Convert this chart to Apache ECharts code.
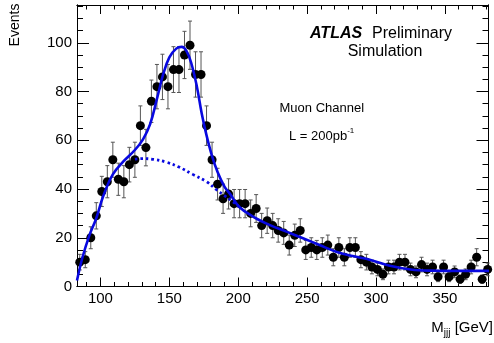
<!DOCTYPE html>
<html>
<head>
<meta charset="utf-8">
<script src="https://cdn.jsdelivr.net/npm/echarts@6/dist/echarts.min.js"></script>
<style>
  html, body { margin: 0; padding: 0; background: #fff; }
  #chart { width: 494px; height: 343px; }
</style>
</head>
<body>
<div id="chart"></div>
<script>
// bin centres (GeV), 4 GeV wide bins
var massBins = [85, 89, 93, 97, 101, 105, 109, 113, 117, 121,
  125, 129, 133, 137, 141, 145, 149, 153, 157, 161,
  165, 169, 173, 177, 181, 185, 189, 193, 197, 201,
  205, 209, 213, 217, 221, 225, 229, 233, 237, 241,
  245, 249, 253, 257, 261, 265, 269, 273, 277, 281,
  285, 289, 293, 297, 301, 305, 309, 313, 317, 321,
  325, 329, 333, 337, 341, 345, 349, 353, 357, 361,
  365, 369, 373, 377, 381];
// events per bin
var events = [10, 11, 20, 29, 39, 43, 52, 44, 43, 50,
  52, 66, 57, 76, 82, 86, 82, 89, 89, 95,
  99, 87, 87, 66, 52, 42, 36, 38, 34, 34,
  34, 30, 32, 25, 27, 25, 23, 22, 17, 21,
  23, 15, 16, 15, 16, 17, 12, 16, 12, 16,
  16, 11, 10, 8, 7, 5, 8, 8, 10, 10,
  7, 6, 9, 7, 8, 4, 8, 4, 6, 3,
  5, 8, 12, 3, 7];
// error bar half heights
var errors = [3.2, 3.3, 4.5, 5.4, 6.2, 6.6, 7.2, 6.6, 6.6, 7.1,
  7.2, 8.1, 7.5, 8.7, 9.1, 9.3, 9.1, 9.4, 9.4, 9.7,
  9.9, 9.3, 9.3, 8.1, 7.2, 6.5, 6.0, 6.2, 5.8, 5.8,
  5.8, 5.5, 5.7, 5.0, 5.2, 5.0, 4.8, 4.7, 4.1, 4.6,
  4.8, 3.9, 4.0, 3.9, 4.0, 4.1, 3.5, 4.0, 3.5, 4.0,
  4.0, 3.3, 3.2, 2.8, 2.6, 2.2, 2.8, 2.8, 3.2, 3.2,
  2.6, 2.4, 3.0, 2.6, 2.8, 2.0, 2.8, 2.0, 2.4, 1.7,
  2.2, 2.8, 3.5, 1.7, 2.6];

// total fit (signal + background)
var fitMass = [83, 87, 92, 97, 102, 109, 117, 125, 131, 136, 141, 145.5, 150, 155, 159,
  162.5, 166, 170, 173.5, 177, 181, 185, 190, 194, 201, 211, 223, 235, 247, 259, 271,
  283, 296, 310, 325, 340, 356, 382];
var fitTotal = [2.5, 12, 21, 28, 37, 46, 51.5, 56, 60.5, 66.5, 77, 87, 94, 97.6, 98.3,
  96.6, 91.5, 82, 71, 62, 53.5, 47, 41, 38, 32.5, 28.6, 25.2, 22.5, 19.8, 17, 14.3,
  12.5, 10.9, 8.5, 7, 6.5, 6.4, 6.4];

// background only (dotted)
var bkgMass = [125, 130, 138, 148, 157, 167, 177, 184, 190, 195, 200];
var bkgValues = [52.3, 52.5, 52.2, 51, 49, 46, 43, 39.8, 37.3, 35.3, 33];

var xMajorTicks = [100, 150, 200, 250, 300, 350];
var xMinorTicks = [90, 110, 120, 130, 140, 160, 170, 180, 190, 210, 220, 230, 240,
  260, 270, 280, 290, 310, 320, 330, 340, 360, 370, 380];
var yMajorTicks = [0, 20, 40, 60, 80, 100];
var yMinorTicks = [5, 10, 15, 25, 30, 35, 45, 50, 55, 65, 70, 75, 85, 90, 95, 105, 110, 115];

var FONT = 'Liberation Sans, Arial, Helvetica, sans-serif';
var BLUE = '#0808e0';
var xMin = 83, xMax = 381.6, yMin = 0, yMax = 115.5;

var points = [], bars = [];
massBins.forEach(function (m, i) {
  points.push([m, events[i]]);
  bars.push([m, events[i] - errors[i], events[i] + errors[i]]);
});
var fitData = fitMass.map(function (m, i) { return [m, fitTotal[i]]; });
var bkgData = bkgMass.map(function (m, i) { return [m, bkgValues[i]]; });

function xAxisDef(pos, ticks, len, labels) {
  return {
    type: 'value', position: pos, min: xMin, max: xMax,
    axisLine: { show: true, onZero: false, lineStyle: { color: '#000', width: 1 } },
    axisTick: { show: true, inside: true, length: len, customValues: ticks,
      lineStyle: { color: '#000', width: 1 } },
    axisLabel: labels ? { show: true, customValues: ticks, fontSize: 15, color: '#000',
      fontFamily: FONT, margin: 5 } : { show: false },
    splitLine: { show: false }
  };
}
function yAxisDef(pos, ticks, len, labels) {
  return {
    type: 'value', position: pos, min: yMin, max: yMax,
    axisLine: { show: true, onZero: false, lineStyle: { color: '#000', width: 1 } },
    axisTick: { show: true, inside: true, length: len, customValues: ticks,
      lineStyle: { color: '#000', width: 1 } },
    axisLabel: labels ? { show: true, customValues: ticks, fontSize: 15, color: '#000',
      fontFamily: FONT, margin: 5 } : { show: false },
    splitLine: { show: false }
  };
}

var chart = echarts.init(document.getElementById('chart'), null, { renderer: 'canvas' });
chart.setOption({
  animation: false,
  backgroundColor: '#fff',
  grid: { left: 77, right: 5.5, top: 5, bottom: 56.5, containLabel: false },
  xAxis: [
    xAxisDef('bottom', xMajorTicks, 9, true),
    xAxisDef('bottom', xMinorTicks, 4.5, false),
    xAxisDef('top', xMajorTicks, 9, false),
    xAxisDef('top', xMinorTicks, 4.5, false)
  ],
  yAxis: [
    yAxisDef('left', yMajorTicks, 12, true),
    yAxisDef('left', yMinorTicks, 6, false),
    yAxisDef('right', yMajorTicks, 12, false),
    yAxisDef('right', yMinorTicks, 6, false)
  ],
  series: [
    {
      // error bars
      type: 'custom',
      xAxisIndex: 0, yAxisIndex: 0,
      silent: true,
      z: 2,
      encode: { x: 0, y: [1, 2] },
      data: bars,
      renderItem: function (params, api) {
        var x = api.value(0);
        var lo = api.coord([x, Math.max(api.value(1), 0)]);
        var hi = api.coord([x, api.value(2)]);
        var st = { stroke: '#555', lineWidth: 1 };
        var w = 2;
        return {
          type: 'group',
          children: [
            { type: 'line', shape: { x1: hi[0], y1: hi[1], x2: lo[0], y2: lo[1] }, style: st },
            { type: 'line', shape: { x1: hi[0] - w, y1: hi[1], x2: hi[0] + w, y2: hi[1] }, style: st },
            { type: 'line', shape: { x1: lo[0] - w, y1: lo[1], x2: lo[0] + w, y2: lo[1] }, style: st }
          ]
        };
      }
    },
    {
      type: 'scatter',
      xAxisIndex: 0, yAxisIndex: 0,
      silent: true,
      z: 3,
      symbol: 'circle',
      symbolSize: 9,
      itemStyle: { color: '#000', opacity: 1 },
      data: points
    },
    {
      type: 'line',
      xAxisIndex: 0, yAxisIndex: 0,
      silent: true,
      z: 4,
      smooth: 0.4,
      symbol: 'none',
      lineStyle: { color: BLUE, width: 2.8, type: [2.5, 3] },
      data: bkgData
    },
    {
      type: 'line',
      xAxisIndex: 0, yAxisIndex: 0,
      silent: true,
      z: 5,
      smooth: 0.4,
      symbol: 'none',
      lineStyle: { color: BLUE, width: 2.6 },
      data: fitData
    }
  ],
  graphic: [
    { type: 'text', x: 15, y: 25, rotation: Math.PI / 2, silent: true,
      style: { text: 'Events', font: '14px ' + FONT, fill: '#000', align: 'center', verticalAlign: 'middle' } },
    { type: 'text', x: 493, y: 329, silent: true,
      style: {
        text: '{m|M}{s|jjj}{m| [GeV]}', align: 'right', verticalAlign: 'middle', fill: '#000',
        rich: {
          m: { fontSize: 15, fontFamily: FONT, lineHeight: 18, verticalAlign: 'top', fill: '#000' },
          s: { fontSize: 10, fontFamily: FONT, lineHeight: 10, verticalAlign: 'bottom', fill: '#000' }
        }
      } },
    { type: 'text', x: 310, y: 34, silent: true,
      style: { text: 'ATLAS', font: 'italic bold 16px ' + FONT, fill: '#000', align: 'left', verticalAlign: 'middle' } },
    { type: 'text', x: 372, y: 34, silent: true,
      style: { text: 'Preliminary', font: '16px ' + FONT, fill: '#000', align: 'left', verticalAlign: 'middle' } },
    { type: 'text', x: 385, y: 52, silent: true,
      style: { text: 'Simulation', font: '16px ' + FONT, fill: '#000', align: 'center', verticalAlign: 'middle' } },
    { type: 'text', x: 279.5, y: 108.5, silent: true,
      style: { text: 'Muon Channel', font: '13px ' + FONT, fill: '#000', align: 'left', verticalAlign: 'middle' } },
    { type: 'text', x: 289, y: 135, silent: true,
      style: {
        text: '{n|L = 200pb}{s|-1}', align: 'left', verticalAlign: 'middle', fill: '#000',
        rich: {
          n: { fontSize: 13, fontFamily: FONT, lineHeight: 16, verticalAlign: 'bottom', fill: '#000' },
          s: { fontSize: 8, fontFamily: FONT, lineHeight: 8, verticalAlign: 'top', fill: '#000' }
        }
      } }
  ]
});
</script>
</body>
</html>
